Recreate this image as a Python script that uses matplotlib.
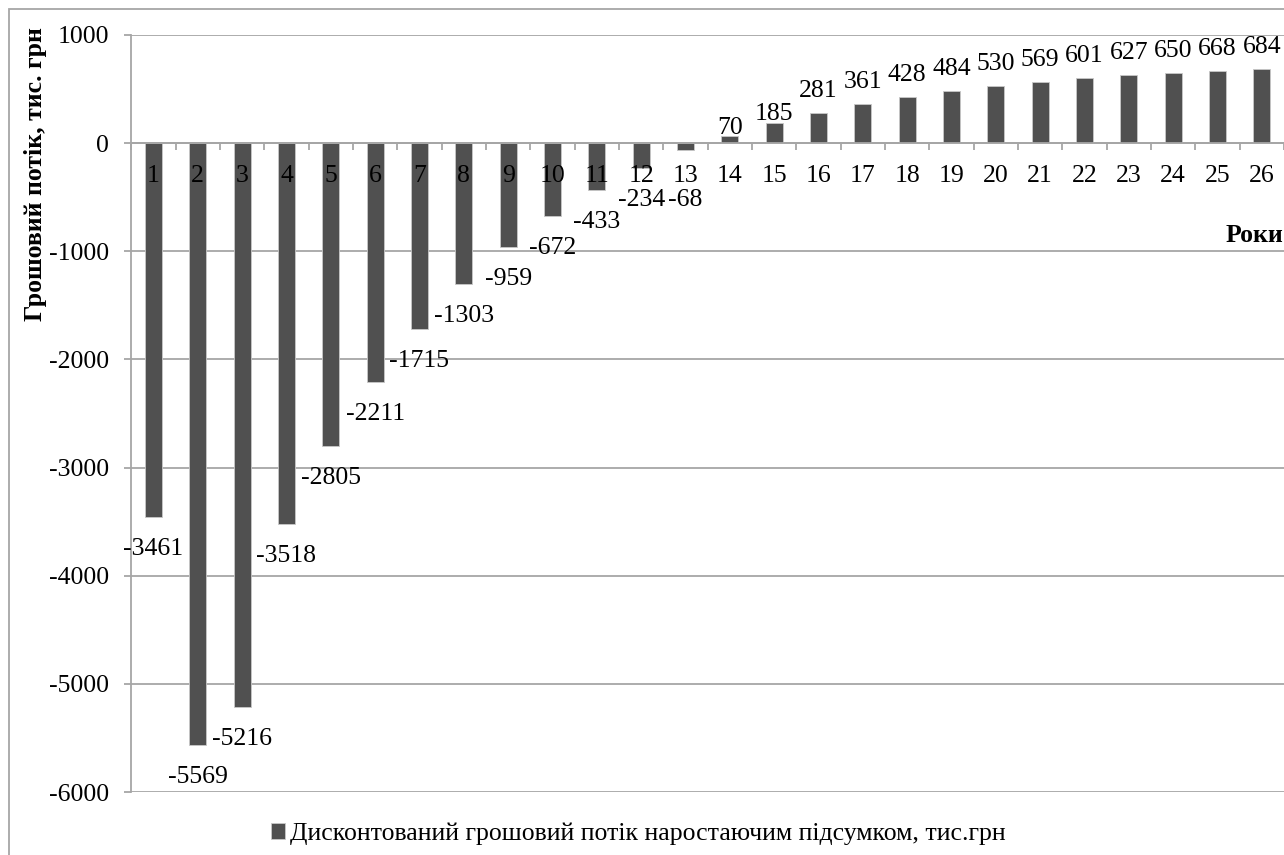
import matplotlib
matplotlib.use("Agg")
import matplotlib.pyplot as plt
from matplotlib.patches import Rectangle
from matplotlib.transforms import offset_copy

# cumulative discounted cash flow by year, thousand UAH
years = list(range(1, 27))
cash_flow = [-3461, -5569, -5216, -3518, -2805, -2211, -1715, -1303, -959, -672,
             -433, -234, -68, 70, 185, 281, 361, 428, 484, 530,
             569, 601, 627, 650, 668, 684]
y_ticks = [1000, 0, -1000, -2000, -3000, -4000, -5000, -6000]
series_name = "Дисконтований грошовий потік наростаючим підсумком, тис.грн"
y_title = "Грошовий потік, тис. грн"
x_title = "Роки"

# a few value labels sit a bit off the default spot (pixels)
label_nudge = {13: -18, 14: -14, 15: -13}

plt.rcParams['font.family'] = ['Liberation Serif', 'DejaVu Serif']
FS = 18.5
GRID = '#a6a6a6'
BAR = '#505050'
W, H, DPI = 1284, 855, 100

fig = plt.figure(figsize=(W / DPI, H / DPI), dpi=DPI)
left, right, top, bottom = 131.3, 1284.0, 35.0, 792.0
ax = fig.add_axes([left / W, 1 - bottom / H, (right - left) / W, (bottom - top) / H])

bars = ax.bar(years, cash_flow, width=0.38, color=BAR, edgecolor='#c8c8c8',
              linewidth=0.6, zorder=2)

ax.set_xlim(0.5, 26.5)
ax.set_ylim(-6000, 1000)
ax.set_axisbelow(True)
ax.yaxis.grid(True, color=GRID, lw=1.3)

for s in ['top', 'right']:
    ax.spines[s].set_visible(False)
ax.spines['left'].set_color(GRID)
ax.spines['left'].set_linewidth(1.3)
ax.spines['bottom'].set_position(('data', 0))
ax.spines['bottom'].set_color(GRID)
ax.spines['bottom'].set_linewidth(1.3)

ax.set_yticks(y_ticks)
ax.set_yticklabels([str(t) for t in y_ticks])
ax.tick_params(axis='y', direction='out', length=5, width=1.3, color=GRID,
               pad=11, labelsize=FS)

ax.set_xticks([])
ax.set_xticks([i + 0.5 for i in range(0, 27)], minor=True)
ax.tick_params(axis='x', which='minor', direction='out', length=5, width=1.3,
               color=GRID)

# year labels sit just under the zero line, on top of the bars
cat_tr = offset_copy(ax.transData, fig=fig, y=-39, units='dots')
for x in years:
    ax.text(x, 0, str(x), transform=cat_tr, ha='center', va='baseline',
            fontsize=FS, zorder=5)

# value labels at bar ends
for x, v in zip(years, cash_flow):
    off = 16 if v > 0 else -38
    off += label_nudge.get(x, 0)
    tr = offset_copy(ax.transData, fig=fig, y=off, units='dots')
    ax.text(x, v, str(v), transform=tr, ha='center', va='baseline',
            fontsize=FS, zorder=5)

fig.legend([bars], [series_name], loc='center left',
           bbox_to_anchor=(271 / W, 1 - 834 / H), frameon=False, fontsize=FS,
           handlelength=0.55, handleheight=0.55, handletextpad=0.2,
           borderpad=0, borderaxespad=0)

fig.text(36 / W, 1 - 174 / H, y_title, rotation=90, ha='center', va='center',
         fontsize=18.5, fontweight='bold')
fig.text(1283 / W, 1 - 242 / H, x_title, ha='right', va='baseline',
         fontsize=FS, fontweight='bold')

# chart area border
fig.add_artist(Rectangle((9 / W, -1), 2, 2 - 9 / H, transform=fig.transFigure,
                         fill=False, edgecolor=GRID, lw=1.3))

fig.savefig('out.png', dpi=DPI)
